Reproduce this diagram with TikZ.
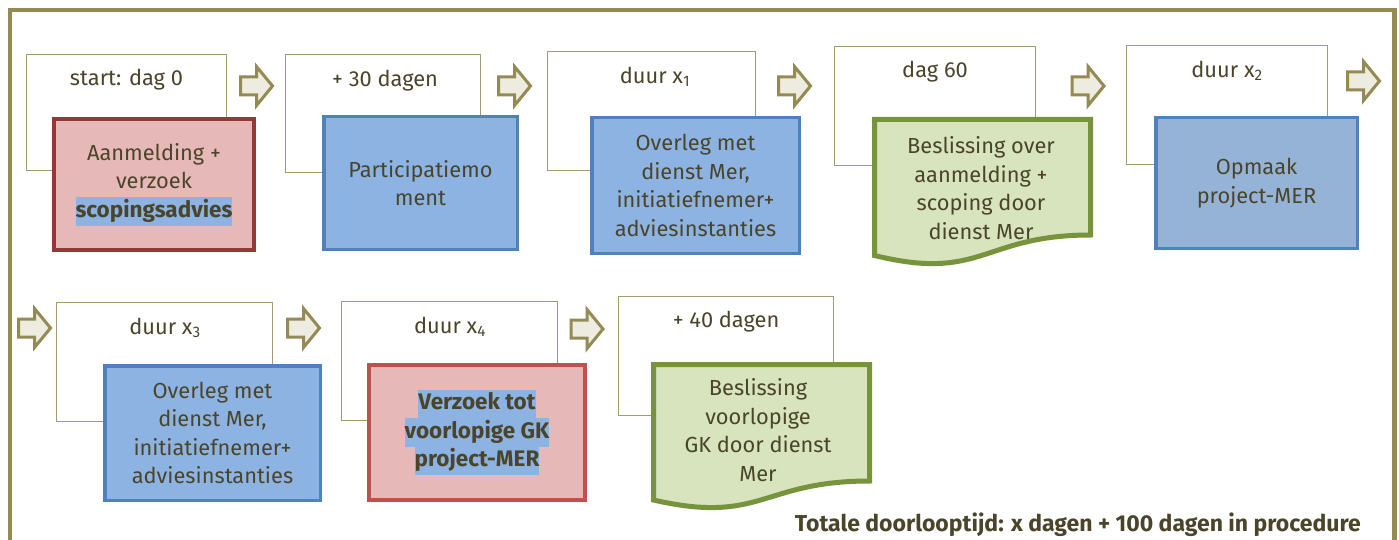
\documentclass[tikz,border=0pt]{standalone}
\usepackage{fontspec}
\setmainfont{Fira Sans}
\definecolor{frame}{HTML}{948A54}
\definecolor{wline}{HTML}{A39C6E}
\definecolor{arrfill}{HTML}{EEECE1}
\definecolor{redfill}{HTML}{E6B9B8}
\definecolor{reddark}{HTML}{953735}
\definecolor{redmid}{HTML}{C0504D}
\definecolor{bluefill}{HTML}{8DB3E2}
\definecolor{bluefillb}{HTML}{95B3D7}
\definecolor{blueline}{HTML}{4F81BD}
\definecolor{greenfill}{HTML}{D7E4BD}
\definecolor{greenline}{HTML}{77933C}
\definecolor{hlcol}{HTML}{8DB3E2}
\definecolor{txt}{HTML}{4A452A}
\newcommand\hlt[1]{{\setlength{\fboxsep}{0pt}\colorbox{hlcol}{\strut #1}}}
\newcommand\bfsz{\fontsize{22.5}{28.5}\selectfont\bfseries}
\tikzset{
  base/.style={text=txt, font=\fontsize{21.8}{28.5}\selectfont, align=center, inner sep=0pt},
  wbox/.style={draw=wline, line width=1.3pt, fill=white, inner sep=0pt},
  lbl/.style={base},
  redbox/.style={base, draw=reddark, line width=4pt, fill=redfill},
  redboxb/.style={base, draw=redmid, line width=4pt, fill=redfill},
  bluebox/.style={base, draw=blueline, line width=3.5pt, fill=bluefill},
  blueboxb/.style={base, draw=blueline, line width=3.5pt, fill=bluefillb},
  greendoc/.style={draw=greenline, line width=5pt, fill=greenfill, line join=miter},
  arrst/.style={draw=frame, line width=3pt, fill=arrfill, line join=miter},
  barrow/.pic={\path[arrst] (-16,-9) -- (0,-9) -- (0,-19.5) -- (16,0) -- (0,19.5) -- (0,9) -- (-16,9) -- cycle;}
}
\begin{document}
\begin{tikzpicture}[x=1pt,y=-1pt]
\useasboundingbox (0,0) rectangle (1399,540);
\fill[white] (0,0) rectangle (1399,540);
\begin{scope}
\clip (0,0) rectangle (1399,540);
\draw[frame, line width=4.5pt] (10,10) rectangle (1394.5,600);
\end{scope}

% white boxes
\node[wbox, minimum width=199.7, minimum height=115.7] (w1) at (126.5,112.5) {};
\node[wbox, minimum width=194.7, minimum height=117.7] (w2) at (383,113.5) {};
\node[wbox, minimum width=207.7, minimum height=118.7] (w3) at (651.5,111) {};
\node[wbox, minimum width=200.7, minimum height=118.7] (w4) at (935,106) {};
\node[wbox, minimum width=200.7, minimum height=118.7] (w5) at (1227,105) {};
\node[wbox, minimum width=215.7, minimum height=118.7] (w6) at (164.5,362) {};
\node[wbox, minimum width=215.7, minimum height=118.7] (w7) at (449.5,361) {};
\node[wbox, minimum width=214.7, minimum height=118.7] (w8) at (726,356) {};

% labels
\node[lbl] (l1) at (126.5,80) {start: dag 0};
\node[lbl] (l2) at (385,81) {+ 30 dagen};
\node[lbl] (l3) at (655,77) {duur x\textsubscript{1}};
\node[lbl] (l4) at (935,72) {dag 60};
\node[lbl] (l5) at (1227,71) {duur x\textsubscript{2}};
\node[lbl] (l6) at (165,328) {duur x\textsubscript{3}};
\node[lbl] (l7) at (450,327) {duur x\textsubscript{4}};
\node[lbl] (l8) at (726,322) {+ 40 dagen};

% coloured boxes
\node[redbox, minimum width=200, minimum height=131] (r1) at (154,184.5) {Aanmelding +\\verzoek\\\hlt{\bfsz scopingsadvies}};
\node[bluebox, minimum width=193.5, minimum height=132.5] (b2) at (420.5,183) {Participatiemo\\ment};
\node[bluebox, minimum width=207.5, minimum height=135.5] (b3) at (695.5,185.5) {Overleg met\\dienst Mer,\\initiatiefnemer+\\adviesinstanties};
\path[greendoc] (874.5,119.5) -- (1090.5,119.5) -- (1090.5,235) .. controls (982.5,235) and (982.5,282) .. (874.5,255.5) -- cycle;
\node[base] (g1) at (981,188) {Beslissing over\\aanmelding +\\scoping door\\dienst Mer};
\node[blueboxb, minimum width=201.5, minimum height=130.5] (b5) at (1256.5,183) {Opmaak\\project-MER};
\node[bluebox, minimum width=215.5, minimum height=134.5] (b6) at (212.5,433) {Overleg met\\dienst Mer,\\initiatiefnemer+\\adviesinstanties};
\node[redboxb, minimum width=216, minimum height=135] (r7) at (477,432.5) {\bfsz\hlt{Verzoek tot}\\\bfsz\hlt{voorlopige GK}\\\bfsz\hlt{project-MER}};
\path[greendoc] (653.5,364.5) -- (869.5,364.5) -- (869.5,481) .. controls (761.5,481) and (761.5,524.7) .. (653.5,500) -- cycle;
\node[base] (g2) at (758,430) {Beslissing\\voorlopige\\GK door dienst\\Mer};

% arrows
\pic at (256.5,86) {barrow};
\pic at (514.5,86) {barrow};
\pic at (794.5,86) {barrow};
\pic at (1088,86) {barrow};
\pic at (1363.5,81) {barrow};
\pic at (34.5,328) {barrow};
\pic at (303.5,328) {barrow};
\pic at (587,329) {barrow};

\node[base, anchor=base east, font=\fontsize{23}{26}\selectfont\bfseries] (total) at (1361,531) {Totale doorlooptijd: x dagen + 100 dagen in procedure};
\end{tikzpicture}
\end{document}
